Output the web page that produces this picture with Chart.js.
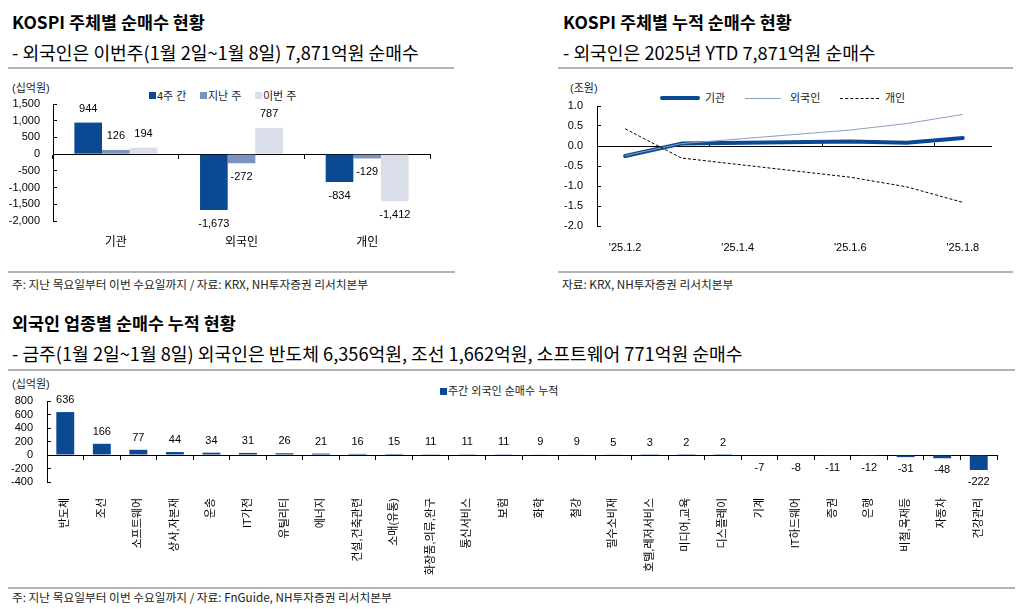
<!DOCTYPE html>
<html><head><meta charset="utf-8">
<script src="https://cdn.jsdelivr.net/npm/chart.js@4"></script>
<style>
html,body{margin:0;padding:0;background:#fff;}
#wrap{position:relative;width:1021px;height:609px;overflow:hidden;background:#fff;font-family:'Liberation Sans','Noto Sans CJK KR',sans-serif;color:#000;}
.t{position:absolute;white-space:nowrap;}
.title{font-family:'Noto Sans CJK KR',sans-serif;font-weight:bold;font-size:17.4px;line-height:20px;}
.sub{font-family:'Noto Sans CJK KR',sans-serif;font-size:18.2px;line-height:20px;}
.foot{font-family:'Noto Sans CJK KR',sans-serif;font-size:11.7px;line-height:14px;color:#222;}
.unit{font-size:11px;line-height:14px;color:#222;}
.leg{font-size:11px;line-height:14px;color:#222;}
.rule{position:absolute;height:2px;background:#b4b4b4;}
.sq{position:absolute;width:7px;height:7px;}
canvas{position:absolute;}
</style></head>
<body><div id="wrap">
<div class="t title" style="left:12px;top:12px;">KOSPI 주체별 순매수 현황</div>
<div class="t sub" style="left:12px;top:42px;">- 외국인은 이번주(1월 2일~1월 8일) 7,871억원 순매수</div>
<div class="rule" style="left:8px;top:67px;width:446px;"></div>
<div class="t title" style="left:563px;top:12px;">KOSPI 주체별 누적 순매수 현황</div>
<div class="t sub" style="left:563px;top:42px;">- 외국인은 2025년 YTD 7,871억원 순매수</div>
<div class="rule" style="left:558px;top:67px;width:455px;"></div>

<div class="t unit" style="left:12px;top:81px;">(십억원)</div>
<div class="sq" style="left:149px;top:92px;background:#0b4a93;"></div>
<div class="t leg" style="left:157px;top:89px;">4주 간</div>
<div class="sq" style="left:200px;top:92px;background:#7b93be;"></div>
<div class="t leg" style="left:208px;top:89px;">지난 주</div>
<div class="sq" style="left:255px;top:92px;background:#d9dee8;"></div>
<div class="t leg" style="left:263px;top:89px;">이번 주</div>

<div class="t unit" style="left:570px;top:81px;">(조원)</div>
<div style="position:absolute;left:660px;top:96px;width:40px;height:4px;background:#0b4a93;border-radius:2px;"></div>
<div class="t leg" style="left:705px;top:91px;">기관</div>
<div style="position:absolute;left:745px;top:98px;width:36px;height:1px;background:#8a9dc2;"></div>
<div class="t leg" style="left:790px;top:91px;">외국인</div>
<div style="position:absolute;left:840px;top:98px;width:39px;height:0;border-top:1px dashed #000;"></div>
<div class="t leg" style="left:885px;top:91px;">개인</div>

<div class="rule" style="left:8px;top:271px;width:447px;"></div>
<div class="t foot" style="left:12px;top:277px;">주: 지난 목요일부터 이번 수요일까지 / 자료: KRX, NH투자증권 리서치본부</div>
<div class="rule" style="left:558px;top:271px;width:455px;"></div>
<div class="t foot" style="left:562px;top:277px;">자료: KRX, NH투자증권 리서치본부</div>

<div class="t title" style="left:12px;top:313px;">외국인 업종별 순매수 누적 현황</div>
<div class="t sub" style="left:12px;top:343px;">- 금주(1월 2일~1월 8일) 외국인은 반도체 6,356억원, 조선 1,662억원, 소프트웨어 771억원 순매수</div>
<div class="rule" style="left:8px;top:369px;width:1007px;"></div>
<div class="t unit" style="left:12px;top:377px;">(십억원)</div>
<div class="sq" style="left:440px;top:388px;background:#0b4a93;"></div>
<div class="t leg" style="left:448px;top:384px;">주간 외국인 순매수 누적</div>

<div class="rule" style="left:8px;top:587px;width:1007px;"></div>
<div class="t foot" style="left:12px;top:590px;">주: 지난 목요일부터 이번 수요일까지 / 자료: FnGuide, NH투자증권 리서치본부</div>

<canvas id="c1" width="440" height="158" style="left:0px;top:95px;"></canvas>
<canvas id="c2" width="445" height="162" style="left:555px;top:95px;"></canvas>
<canvas id="c3" width="1010" height="187" style="left:0px;top:395px;"></canvas>
</div>
<script>
// ---------- data ----------
const investorCats = ['기관', '외국인', '개인'];
const fourWeeks = [944, -1673, -834];
const lastWeek = [126, -272, -129];
const thisWeek = [194, 787, -1412];

const dateLabels = ["'25.1.2", "'25.1.3", "'25.1.4", "'25.1.5", "'25.1.6", "'25.1.7", "'25.1.8"];
const instCum = [-0.25, 0.06, null, null, 0.11, 0.08, 0.20];
const foreignCum = [-0.24, 0.06, null, null, 0.40, 0.56, 0.79];
const retailCum = [0.43, -0.30, null, null, -0.78, -1.02, -1.41];

const sectors = ['반도체','조선','소프트웨어','상사,자본재','운송','IT가전','유틸리티','에너지','건설,건축관련','소매(유통)','화장품,의류,완구','통신서비스','보험','화학','철강','필수소비재','호텔,레저서비스','미디어,교육','디스플레이','기계','IT하드웨어','증권','은행','비철,목재등','자동차','건강관리'];
const sectorNet = [636,166,77,44,34,31,26,21,16,15,11,11,11,9,9,5,3,2,2,-7,-8,-11,-12,-31,-48,-222];

const axis1Ticks = [-2000, 1500, 500];
const axis2Ticks = [-2.0, 1.0, 0.5];
const axis3Ticks = [-400, 800, 200];

// ---------- helpers ----------
const NUMFONT = "'Liberation Sans','Noto Sans CJK KR',sans-serif";
const fmt = v => v.toLocaleString('en-US');
function valueLabels(offset, size) {
  return {
    id: 'valueLabels',
    afterDatasetsDraw(chart) {
      const ctx = chart.ctx;
      ctx.save();
      ctx.font = size + 'px ' + NUMFONT;
      ctx.fillStyle = '#000';
      ctx.textAlign = 'center';
      ctx.textBaseline = 'middle';
      chart.data.datasets.forEach((ds, i) => {
        const meta = chart.getDatasetMeta(i);
        meta.data.forEach((el, j) => {
          const v = ds.data[j];
          if (v == null) return;
          const y = v >= 0 ? el.y - offset : el.y + offset;
          ctx.fillText(fmt(v), el.x, y);
        });
      });
      ctx.restore();
    }
  };
}
function fixY(w) {
  return s => { s.width = w; s.paddingTop = 0; s.paddingBottom = 0; };
}
const tickFont = {family: NUMFONT, size: 11};
Chart.defaults.font.family = NUMFONT;
Chart.defaults.color = '#000';

// ---------- chart 1 ----------
new Chart(document.getElementById('c1'), {
  type: 'bar',
  data: {
    labels: investorCats,
    datasets: [
      {label: '4주 간', data: fourWeeks, backgroundColor: '#0b4a93'},
      {label: '지난 주', data: lastWeek, backgroundColor: '#7b93be'},
      {label: '이번 주', data: thisWeek, backgroundColor: '#d9dee8'}
    ]
  },
  options: {
    responsive: false, animation: false,
    layout: {padding: {top: 9, right: 10, left: 0, bottom: 0}},
    plugins: {legend: {display: false}, tooltip: {enabled: false}},
    datasets: {bar: {categoryPercentage: 0.66, barPercentage: 1}},
    scales: {
      y: {min: axis1Ticks[0], max: axis1Ticks[1],
        ticks: {stepSize: axis1Ticks[2], autoSkip: false, callback: v => fmt(v), font: tickFont, color: '#000', padding: 17},
        grid: {drawOnChartArea: false, tickLength: -4, color: '#000'},
        border: {color: '#000'},
        afterFit: fixY(53)},
      x: {position: {y: 0}, offset: true,
        ticks: {display: false},
        grid: {drawOnChartArea: false, tickLength: 4, color: '#000', offset: true},
        border: {color: '#000'}},
      x2: {type: 'category', position: 'bottom', offset: true,
        grid: {display: false}, border: {display: false},
        ticks: {font: {family: NUMFONT, size: 12}, color: '#000', padding: 6},
        afterFit(s) { s.height = 32; }}
    }
  },
  plugins: [valueLabels(14, 11)]
});

// ---------- chart 2 ----------
new Chart(document.getElementById('c2'), {
  type: 'line',
  data: {
    labels: dateLabels,
    datasets: [
      {label: '기관', data: instCum, borderColor: '#0b4a93', borderWidth: 4, pointRadius: 0, spanGaps: true, borderJoinStyle: 'round', borderCapStyle: 'round', order: 2},
      {label: '외국인', data: foreignCum, borderColor: '#8a9dc2', borderWidth: 1, pointRadius: 0, spanGaps: true, order: 1},
      {label: '개인', data: retailCum, borderColor: '#000', borderWidth: 1, borderDash: [3, 2], pointRadius: 0, spanGaps: true, order: 0}
    ]
  },
  options: {
    responsive: false, animation: false,
    layout: {padding: {top: 11, right: 9, left: 0, bottom: 0}},
    plugins: {legend: {display: false}, tooltip: {enabled: false}},
    scales: {
      y: {min: axis2Ticks[0], max: axis2Ticks[1],
        ticks: {stepSize: axis2Ticks[2], autoSkip: false, callback: v => v.toFixed(1), font: tickFont, color: '#000', padding: 18},
        grid: {drawOnChartArea: false, tickLength: -4, color: '#000'},
        border: {color: '#000'},
        afterFit: fixY(42)},
      x: {position: {y: 0}, offset: true,
        ticks: {display: false},
        grid: {drawOnChartArea: false, tickLength: -4, offset: true,
          color: c => (c.index === 2 || c.index === 4 || c.index === 6) ? '#000' : 'rgba(0,0,0,0)'},
        border: {color: '#000'}},
      x2: {type: 'category', position: 'bottom', offset: true,
        grid: {display: false}, border: {display: false},
        ticks: {autoSkip: false, maxRotation: 0, font: {family: NUMFONT, size: 11}, color: '#000', padding: 7,
          callback: (v, i) => i % 2 === 0 ? dateLabels[i] : ''},
        afterFit(s) { s.height = 31; }}
    }
  }
});

// ---------- chart 3 ----------
new Chart(document.getElementById('c3'), {
  type: 'bar',
  data: {
    labels: sectors,
    datasets: [{label: '주간 외국인 순매수 누적', data: sectorNet, backgroundColor: '#0b4a93'}]
  },
  options: {
    responsive: false, animation: false,
    layout: {padding: {top: 6, right: 13, left: 0, bottom: 0}},
    plugins: {legend: {display: false}, tooltip: {enabled: false}},
    datasets: {bar: {categoryPercentage: 0.49, barPercentage: 1}},
    scales: {
      y: {min: axis3Ticks[0], max: axis3Ticks[1],
        ticks: {stepSize: axis3Ticks[2], autoSkip: false, callback: v => fmt(v), font: tickFont, color: '#000', padding: 18},
        grid: {drawOnChartArea: false, tickLength: -4, color: '#000'},
        border: {color: '#000'},
        afterFit: fixY(47)},
      x: {position: {y: 0}, offset: true,
        ticks: {display: false},
        grid: {drawOnChartArea: false, tickLength: 4, color: '#000', offset: true},
        border: {color: '#000'}},
      x2: {type: 'category', position: 'bottom', offset: true,
        grid: {display: false}, border: {display: false},
        ticks: {autoSkip: false, maxRotation: 90, minRotation: 90, font: {family: NUMFONT, size: 11}, color: '#000', padding: 8},
        afterFit(s) { s.height = 100; }}
    }
  },
  plugins: [valueLabels(12, 11)]
});
</script>
</body></html>
